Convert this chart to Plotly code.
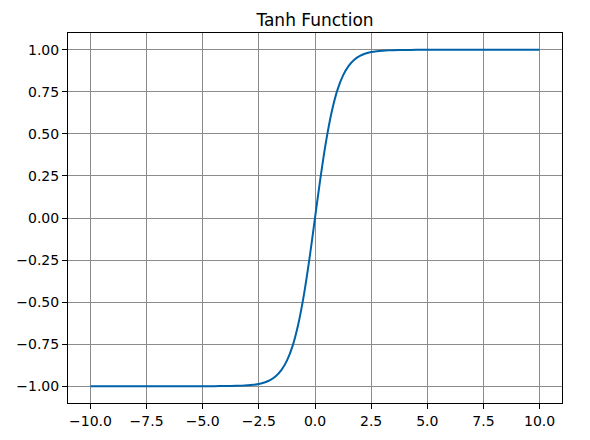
import plotly.graph_objects as go

# Values
x_vals = [-10.0, -8.0, -6.0, -5.0, -4.5, -4.0, -3.5, -3.0, -2.75, -2.5, -2.25, -2.0, -1.75,
          -1.5, -1.25, -1.0, -0.75, -0.5, -0.25, 0.0, 0.25, 0.5, 0.75, 1.0, 1.25, 1.5,
          1.75, 2.0, 2.25, 2.5, 2.75, 3.0, 3.5, 4.0, 4.5, 5.0, 6.0, 8.0, 10.0]
y_vals = [-1.0, -1.0, -1.0, -0.9999, -0.9998, -0.9993, -0.998, -0.995, -0.992, -0.987,
          -0.978, -0.964, -0.941, -0.905, -0.848, -0.762, -0.635, -0.462, -0.245, 0.0,
          0.245, 0.462, 0.635, 0.762, 0.848, 0.905, 0.941, 0.964, 0.978, 0.987, 0.992,
          0.995, 0.998, 0.9993, 0.9998, 0.9999, 1.0, 1.0, 1.0]

x_ticks = [-10.0, -7.5, -5.0, -2.5, 0.0, 2.5, 5.0, 7.5, 10.0]
x_tick_labels = ["\u221210.0", "\u22127.5", "\u22125.0", "\u22122.5", "0.0", "2.5", "5.0", "7.5", "10.0"]
y_ticks = [-1.0, -0.75, -0.5, -0.25, 0.0, 0.25, 0.5, 0.75, 1.0]
y_tick_labels = ["\u22121.00", "\u22120.75", "\u22120.50", "\u22120.25", "0.00", "0.25", "0.50", "0.75", "1.00"]

title_text = "Tanh Function"

fig = go.Figure()
fig.add_trace(go.Scatter(x=x_vals, y=y_vals, mode="lines",
                         line=dict(color="#0062a8", width=2, shape="spline", smoothing=0.6),
                         showlegend=False, hoverinfo="skip"))

axis_common = dict(showline=True, linecolor="black", linewidth=1, mirror=True,
                   ticks="outside", ticklen=5, tickwidth=1, tickcolor="black",
                   showgrid=True, gridcolor="#8c8c8c", gridwidth=1, zeroline=False,
                   automargin=False,
                   tickfont=dict(family="DejaVu Sans", size=14, color="black"))

fig.update_layout(
    width=590, height=440,
    margin=dict(l=60, r=36, t=25, b=45),
    paper_bgcolor="white", plot_bgcolor="white",
    title=dict(text=title_text, x=0.5, xref="paper", xanchor="center",
               y=1 - 12/440, yanchor="middle", automargin=False,
               font=dict(family="DejaVu Sans", size=17, color="black")),
    xaxis=dict(range=[-11, 11], tickvals=x_ticks, ticktext=x_tick_labels, **axis_common),
    yaxis=dict(range=[-1.1, 1.1], tickvals=y_ticks, ticktext=y_tick_labels, **axis_common),
)

fig.write_html("out.html")
